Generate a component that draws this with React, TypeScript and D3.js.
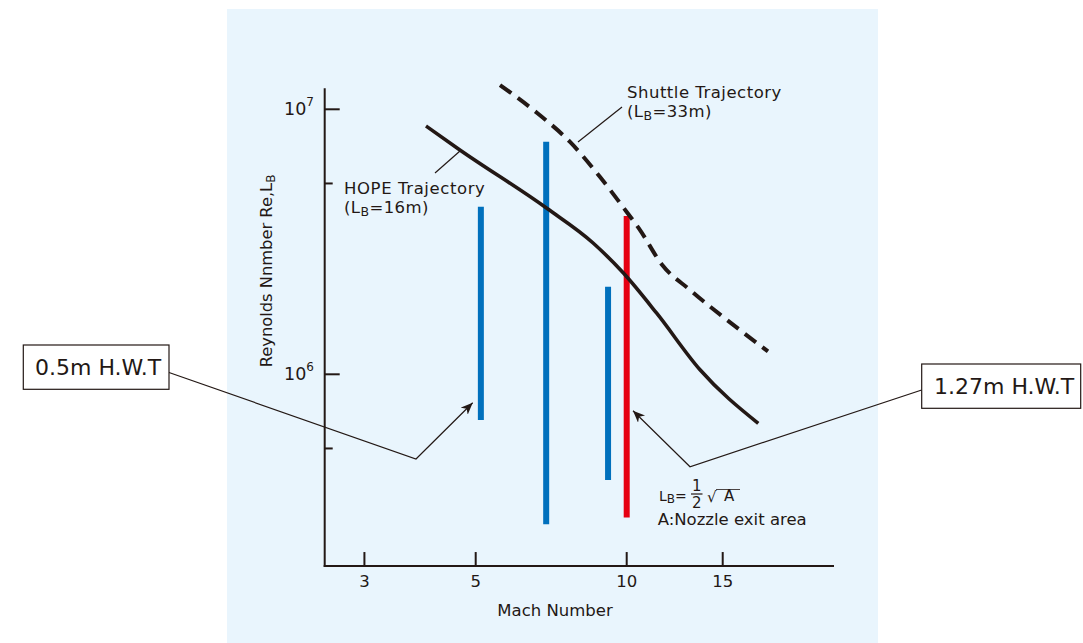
import React from 'react';
import * as d3 from 'd3';

// ---- data ----
const hopeMach = [3.98, 4.65, 6.93, 8.57, 9.85, 11.35, 13.63, 17.43];
const hopeRe = [8.65e6, 7.02e6, 4.23e6, 3.13e6, 2.41e6, 1.7e6, 1.04e6, 6.53e5];

const shuttleMach = [5.59, 6.63, 7.71, 8.85, 9.83, 10.58, 11.61, 13.07, 16.34, 18.16];
const shuttleRe = [1.235e7, 9.68e6, 7.53e6, 5.55e6, 4.28e6, 3.5e6, 2.59e6, 2.08e6, 1.44e6, 1.22e6];

const barMach = [5.12, 6.91, 9.18, 10];
const barReTop = [4.29e6, 7.55e6, 2.14e6, 3.96e6];
const barReBottom = [6.72e5, 2.72e5, 3.99e5, 2.88e5];
const barTunnel = ['0.5m', '0.5m', '0.5m', '1.27m'];

const xTicks = [3, 5, 10, 15];
const yMajorTicks = [1e7, 1e6];
const yMajorLabels = ['7', '6'];
const yMinorTicks = [5.25e6, 5.25e5];

const xDomain = [2.5, 10, 24];
const yDomainExtent = [1.2e7, 1.89e5];

const FONT = '"DejaVu Sans", sans-serif';
const INK = '#231815';

export default function App() {
  const x = d3.scaleLog().domain(xDomain).range([324.7, 626.7, 834]);
  const y = d3.scaleLog().domain([1e7, 1e6]).range([109.3, 374.3]);

  const line = d3
    .line<[number, number]>()
    .x((d) => x(d[0]))
    .y((d) => y(d[1]))
    .curve(d3.curveMonotoneX);

  const hope = line(hopeMach.map((m, i) => [m, hopeRe[i]] as [number, number])) || '';
  const shuttle = line(shuttleMach.map((m, i) => [m, shuttleRe[i]] as [number, number])) || '';

  const tunnelColor = (t: string) => (t === '1.27m' ? '#e60012' : '#0070bd');

  const axisLeft = x(xDomain[0]);
  const axisRight = x(xDomain[2]);
  const axisTop = y(yDomainExtent[0]);
  const axisBottom = y(yDomainExtent[1]);

  return (
    <svg
      width={1083}
      height={643}
      style={{ position: 'absolute', left: 0, top: 0, fontFamily: FONT }}
    >
      <defs>
        <marker
          id="arrow"
          markerUnits="userSpaceOnUse"
          markerWidth={14}
          markerHeight={12}
          refX={12}
          refY={5}
          orient="auto"
        >
          <path d="M0,0 L12,5 L0,10 L3.5,5 Z" fill={INK} />
        </marker>
      </defs>
      <rect x={0} y={0} width={1083} height={643} fill="#ffffff" />
      <rect x={227} y={9} width={651} height={634} fill="#e9f5fd" />

      {/* axes */}
      <line x1={axisLeft} x2={axisLeft} y1={axisTop} y2={axisBottom + 1} stroke={INK} strokeWidth={2} />
      <line x1={axisLeft - 1} x2={axisRight} y1={axisBottom} y2={axisBottom} stroke={INK} strokeWidth={2} />

      {xTicks.map((t) => (
        <g key={'xt' + t}>
          <line x1={x(t)} x2={x(t)} y1={axisBottom} y2={axisBottom - 14} stroke={INK} strokeWidth={2} />
          <text x={x(t)} y={587} fontSize={16.5} textAnchor="middle" fill={INK}>
            {t}
          </text>
        </g>
      ))}
      {yMajorTicks.map((t, i) => (
        <g key={'yt' + t}>
          <line x1={axisLeft} x2={axisLeft + 15} y1={y(t)} y2={y(t)} stroke={INK} strokeWidth={2} />
          <text x={284} y={y(t) + 5.5} fontSize={17.5} fill={INK}>
            10
            <tspan fontSize={12} dy={-8.5}>
              {yMajorLabels[i]}
            </tspan>
          </text>
        </g>
      ))}
      {yMinorTicks.map((t) => (
        <line key={'ym' + t} x1={axisLeft} x2={axisLeft + 8} y1={y(t)} y2={y(t)} stroke={INK} strokeWidth={2} />
      ))}

      <text x={555} y={616} fontSize={16.5} textAnchor="middle" fill={INK}>
        Mach Number
      </text>
      <text transform="translate(271.5,367.3) rotate(-90)" fontSize={16.3} fill={INK}>
        Reynolds Nnmber Re,L
        <tspan fontSize={12} dy={3}>
          B
        </tspan>
      </text>

      {/* wind tunnel ranges */}
      {barMach.map((m, i) => (
        <line
          key={'bar' + i}
          x1={x(m)}
          x2={x(m)}
          y1={y(barReTop[i])}
          y2={y(barReBottom[i])}
          stroke={tunnelColor(barTunnel[i])}
          strokeWidth={6}
        />
      ))}

      {/* trajectories */}
      <path d={hope} fill="none" stroke={INK} strokeWidth={3.6} />
      <path d={shuttle} fill="none" stroke={INK} strokeWidth={4} strokeDasharray="14 8" />

      {/* HOPE label */}
      <line x1={435} y1={173} x2={460} y2={151} stroke={INK} strokeWidth={1.2} />
      <text x={344} y={194.3} fontSize={16.5} letterSpacing={0.6} fill={INK}>
        HOPE Trajectory
      </text>
      <text x={344} y={212.5} fontSize={16.5} letterSpacing={0.4} fill={INK}>
        (L
        <tspan fontSize={12.5} dy={3}>
          B
        </tspan>
        <tspan dy={-3}>=16m)</tspan>
      </text>

      {/* Shuttle label */}
      <line x1={578} y1={142} x2={622} y2={107} stroke={INK} strokeWidth={1.2} />
      <text x={627} y={98.3} fontSize={16.5} letterSpacing={0.5} fill={INK}>
        Shuttle Trajectory
      </text>
      <text x={627} y={116.7} fontSize={16.5} letterSpacing={0.4} fill={INK}>
        (L
        <tspan fontSize={12.5} dy={3}>
          B
        </tspan>
        <tspan dy={-3}>=33m)</tspan>
      </text>

      {/* 0.5m H.W.T callout */}
      <polyline
        points="169,372.5 416,459 472.7,402.7"
        fill="none"
        stroke={INK}
        strokeWidth={1.2}
        markerEnd="url(#arrow)"
      />
      <rect x={23.3} y={345} width={145.7} height={44.3} fill="#ffffff" stroke={INK} strokeWidth={1.2} />
      <text x={35} y={375} fontSize={22} fill={INK}>
        0.5m H.W.T
      </text>

      {/* 1.27m H.W.T callout */}
      <polyline
        points="921.7,390 690,466.7 633,410.7"
        fill="none"
        stroke={INK}
        strokeWidth={1.2}
        markerEnd="url(#arrow)"
      />
      <rect x={921.7} y={364} width={159} height={44.3} fill="#ffffff" stroke={INK} strokeWidth={1.2} />
      <text x={934} y={394} fontSize={22} fill={INK}>
        1.27m H.W.T
      </text>

      {/* formula */}
      <text x={659} y={500.7} fontSize={14} fill={INK}>
        L
        <tspan fontSize={12} dy={2.5}>
          B
        </tspan>
        <tspan dy={-2.5}>=</tspan>
      </text>
      <text x={696.7} y={491} fontSize={15} textAnchor="middle" fill={INK}>
        1
      </text>
      <line x1={691} x2={702.5} y1={494} y2={494} stroke={INK} strokeWidth={1.2} />
      <text x={696.7} y={507.7} fontSize={15} textAnchor="middle" fill={INK}>
        2
      </text>
      <text x={707} y={502} fontSize={15} fill={INK}>
        √
      </text>
      <line x1={716} x2={740} y1={489.5} y2={489.5} stroke={INK} strokeWidth={0.8} />
      <text x={724} y={501} fontSize={15} fill={INK}>
        A
      </text>
      <text x={657.7} y={525} fontSize={16.5} fill={INK}>
        A:Nozzle exit area
      </text>
    </svg>
  );
}
